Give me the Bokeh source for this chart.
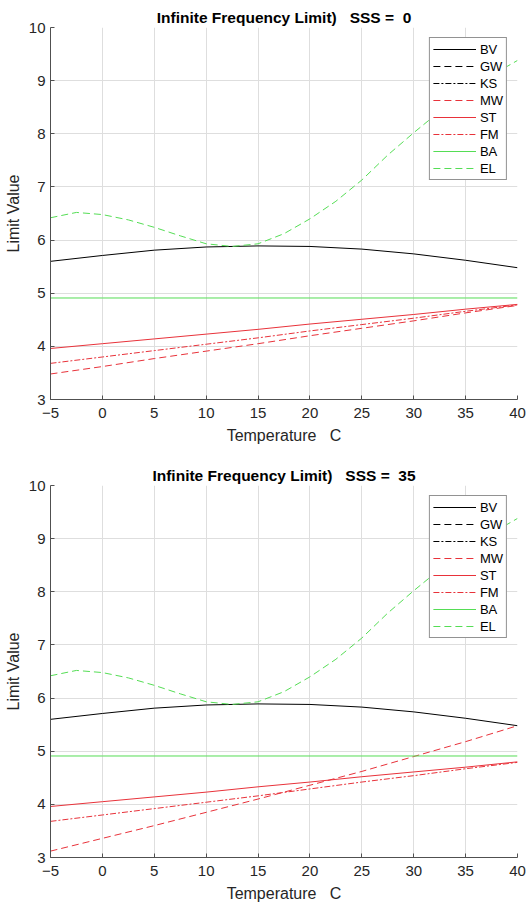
from bokeh.plotting import figure
from bokeh.layouts import column
from bokeh.models import ColumnDataSource, Legend, LegendItem, FixedTicker, Range1d
from bokeh.embed import file_html
from bokeh.resources import INLINE

# ---- data ----
temp5 = [-5, 0, 5, 10, 15, 20, 25, 30, 35, 40]
temp25 = [-5, -2.5, 0, 2.5, 5, 7.5, 10, 12.5, 15, 17.5, 20, 22.5, 25, 27.5, 30, 32.5, 35, 37.5, 40]

bv = [5.60, 5.71, 5.81, 5.87, 5.89, 5.88, 5.83, 5.74, 5.62, 5.48]
el = [6.42, 6.52, 6.48, 6.38, 6.24, 6.08, 5.93, 5.88, 5.93, 6.12, 6.40, 6.73, 7.13,
      7.60, 8.02, 8.42, 8.78, 9.10, 9.38]
ba = [4.91] * 10

st_0 = [3.96, 4.05, 4.14, 4.23, 4.32, 4.42, 4.51, 4.60, 4.70, 4.79]
fm_0 = [3.68, 3.80, 3.92, 4.04, 4.16, 4.29, 4.41, 4.53, 4.66, 4.78]
mw_0 = [3.48, 3.62, 3.77, 3.91, 4.05, 4.20, 4.34, 4.48, 4.63, 4.77]
gw_0 = mw_0
ks_0 = fm_0

st_35 = [3.96, 4.05, 4.14, 4.23, 4.33, 4.42, 4.52, 4.61, 4.70, 4.80]
fm_35 = [3.68, 3.80, 3.92, 4.04, 4.16, 4.29, 4.42, 4.54, 4.67, 4.79]
mw_35 = [3.12, 3.36, 3.60, 3.85, 4.10, 4.36, 4.62, 4.90, 5.18, 5.48]
gw_35 = mw_35
ks_35 = fm_35

xticks = [-5, 0, 5, 10, 15, 20, 25, 30, 35, 40]
yticks = [3, 4, 5, 6, 7, 8, 9, 10]

NB = "\u00a0"
FONT = "Liberation Sans"
TXT = "#262626"
RED = "#e8323a"
GREEN = "#55dd55"
DASH = "7 4"
DASHDOT = "6 2 2 2"


def make_plot(title, series, top, bottom):
    p = figure(width=528, height=452, output_backend="svg", toolbar_location=None,
               x_range=Range1d(-5, 40), y_range=Range1d(3, 10),
               min_border_left=50, min_border_right=11,
               min_border_top=top, min_border_bottom=bottom)
    p.outline_line_color = None
    p.title.text = title
    p.title.align = "center"
    p.title.text_font = FONT
    p.title.text_font_size = "15.5px"
    p.title.text_font_style = "bold"
    p.title.text_color = "#000000"
    p.title.standoff = 3
    for ax in (p.xaxis[0], p.yaxis[0]):
        ax.major_label_text_font = FONT
        ax.major_label_text_font_size = "15px"
        ax.major_label_text_color = TXT
        ax.axis_label_text_font = FONT
        ax.axis_label_text_font_size = "16px"
        ax.axis_label_text_font_style = "normal"
        ax.axis_label_text_color = TXT
        ax.axis_line_color = "#505050"
        ax.major_tick_line_color = "#505050"
        ax.major_tick_in = 4
        ax.major_tick_out = 0
        ax.minor_tick_line_color = None
    p.xaxis.ticker = FixedTicker(ticks=xticks)
    p.yaxis.ticker = FixedTicker(ticks=yticks)
    p.xaxis.axis_label = "Temperature" + NB * 3 + "C"
    p.yaxis.axis_label = "Limit Value"
    p.xaxis.major_label_standoff = 8
    p.xaxis.axis_label_standoff = 6
    p.yaxis.major_label_standoff = 5
    p.yaxis.axis_label_standoff = 4
    p.grid.grid_line_color = "#dedede"

    items = []
    for name, x, y, color, dash, shown in series:
        src = ColumnDataSource(dict(x=x, y=y))
        r = p.line("x", "y", source=src, line_color=color, line_width=1, line_dash=dash)
        r.visible = shown
        items.append(LegendItem(label=name, renderers=[r]))
    leg = Legend(items=items, location="top_right", margin=10, click_policy="none")
    leg.label_text_font = FONT
    leg.label_text_font_size = "13px"
    leg.label_text_color = "#000000"
    leg.glyph_width = 43
    leg.glyph_height = 16
    leg.label_height = 16
    leg.spacing = 1
    leg.padding = 3
    leg.label_standoff = 4
    leg.border_line_color = "#262626"
    leg.border_line_width = 1
    leg.background_fill_alpha = 1.0
    leg.inactive_fill_alpha = 0.0
    p.add_layout(leg, "center")
    return p


def series_for(gw, ks, mw, st, fm):
    # GW and KS lie under MW and FM in the original, so they appear only in the legend
    return [
        ("BV", temp5, bv, "#000000", "solid", True),
        ("GW", temp5, gw, "#000000", DASH, False),
        ("KS", temp5, ks, "#000000", DASHDOT, False),
        ("MW", temp5, mw, RED, DASH, True),
        ("ST", temp5, st, RED, "solid", True),
        ("FM", temp5, fm, RED, DASHDOT, True),
        ("BA", temp5, ba, GREEN, "solid", True),
        ("EL", temp25, el, GREEN, DASH, True),
    ]


p1 = make_plot("Infinite Frequency Limit)" + NB * 3 + "SSS =" + NB * 2 + "0",
               series_for(gw_0, ks_0, mw_0, st_0, fm_0), 27, 53)
p2 = make_plot("Infinite Frequency Limit)" + NB * 3 + "SSS =" + NB * 2 + "35",
               series_for(gw_35, ks_35, mw_35, st_35, fm_35), 33, 47)

layout = column(p1, p2, spacing=0)
open("out.html", "w").write(file_html(layout, INLINE))
